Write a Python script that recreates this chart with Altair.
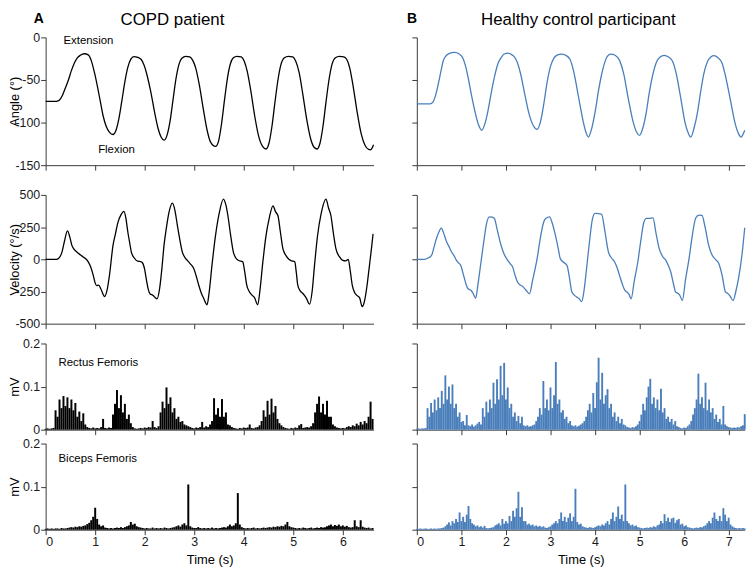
import altair as alt
import pandas as pd

FONT = "Liberation Sans"
BLACK = "#000000"
BLUE = "#4a7ebb"
AXIS = "#3a3a3a"

# ---------------- COPD patient (panel A) ----------------
copd_angle_t = [0, 0.22, 0.28, 0.34, 0.4, 0.46, 0.52, 0.58, 0.64, 0.7, 0.78, 0.86, 0.92, 0.98, 1.04, 1.1, 1.16, 1.22, 1.29, 1.36,
                1.42, 1.48, 1.54, 1.6, 1.66, 1.72, 1.78, 1.86, 1.93, 1.99, 2.05, 2.12, 2.2, 2.27, 2.33, 2.39,
                2.45, 2.51, 2.57, 2.63, 2.69, 2.75, 2.83, 2.91, 2.97, 3.03, 3.1, 3.18, 3.26, 3.33, 3.43,
                3.49, 3.55, 3.61, 3.67, 3.73, 3.79, 3.86, 3.95, 4.01, 4.07, 4.14, 4.22, 4.3, 4.38, 4.45,
                4.51, 4.57, 4.63, 4.69, 4.75, 4.82, 4.9, 4.99, 5.05, 5.12, 5.19, 5.27, 5.35, 5.42, 5.48,
                5.54, 5.6, 5.66, 5.72, 5.78, 5.85, 5.93, 6.02, 6.08, 6.14, 6.21, 6.29, 6.37, 6.45, 6.52, 6.56, 6.59, 6.62]
copd_angle = [-75, -75, -73.5, -68, -59, -50, -39, -30, -24, -21, -19.2, -20.5, -27, -40, -56, -74, -92, -104, -111.5, -114,
              -109, -95, -74, -52, -35, -25.5, -22.5, -23.5, -26, -33, -45, -63, -88, -107, -117, -120.7,
              -115, -99, -74, -49, -32, -24.5, -22.2, -23, -27, -36, -55, -83, -109, -123, -128,
              -122, -102, -74, -48, -31, -24, -22.2, -23, -28, -40, -62, -92, -116, -128, -131,
              -124, -104, -76, -50, -32, -24, -22.2, -23, -28, -42, -66, -96, -119, -129, -131,
              -124, -104, -76, -50, -32, -24, -22.2, -23, -26, -36, -58, -88, -113, -127, -131.5, -132, -130, -126]

copd_vel_t = [0, 0.22, 0.28, 0.33, 0.38, 0.44, 0.49, 0.53, 0.58, 0.63, 0.7, 0.76, 0.82, 0.86, 0.91, 0.96, 1.0, 1.03, 1.07, 1.12,
              1.19, 1.24, 1.29, 1.36, 1.41, 1.46, 1.52, 1.58, 1.62, 1.66, 1.7, 1.73, 1.79, 1.86, 1.92, 1.95, 2.0, 2.03,
              2.07, 2.11, 2.16, 2.25, 2.3, 2.35, 2.39, 2.44, 2.49, 2.56, 2.61, 2.66, 2.71, 2.76, 2.81, 2.86, 2.92, 2.99,
              3.04, 3.09, 3.14, 3.19, 3.26, 3.3, 3.36, 3.43, 3.5, 3.59, 3.64, 3.68, 3.73, 3.79, 3.84, 3.89, 3.98, 4.02,
              4.06, 4.11, 4.16, 4.22, 4.28, 4.33, 4.38, 4.45, 4.52, 4.59, 4.64, 4.69, 4.74, 4.79, 4.85, 4.91, 4.97,
              5.03, 5.06, 5.09, 5.14, 5.19, 5.26, 5.33, 5.38, 5.43, 5.49, 5.56, 5.66, 5.71, 5.76, 5.81, 5.86, 5.93,
              6.0, 6.06, 6.11, 6.15, 6.19, 6.24, 6.29, 6.34, 6.39, 6.44, 6.49, 6.53, 6.58, 6.61]
copd_vel = [0, 0, 15, 56, 140, 220, 170, 108, 75, 56, 35, 18, 0, -20, -60, -123, -185, -205, -200, -235,
            -289, -240, -120, 108, 200, 287, 345, 372, 320, 210, 120, 56, 10, -15, -18, -25, -80, -149,
            -230, -270, -278, -307, -230, -60, 108, 250, 364, 436, 380, 262, 150, 56, 15, -8, -35, -72,
            -130, -200, -260, -303, -353, -260, -40, 185, 350, 467, 420, 338, 200, 56, 10, -8, -20, -100,
            -200, -250, -277, -300, -353, -230, -40, 185, 330, 415, 370, 338, 210, 82, 30, 0, -12,
            -20, -100, -200, -245, -264, -300, -348, -250, -40, 185, 350, 467, 400, 338, 200, 82, 20,
            -8, -12, 0, -90, -200, -260, -282, -300, -368, -320, -200, -72, 90, 197]

# EMG (mV), one value every 0.04 s from t = 0
copd_rf = [0.002, 0.003, 0.002, 0.003, 0.004,
           0.045, 0.03, 0.07, 0.05, 0.078, 0.055, 0.075, 0.05, 0.07, 0.045, 0.062, 0.03, 0.042, 0.02, 0.038,
           0.012, 0.006, 0.004, 0.003, 0.005, 0.003, 0.004, 0.003, 0.006, 0.025, 0.004, 0.003, 0.005, 0.004,
           0.035, 0.06, 0.092, 0.05, 0.08, 0.04, 0.06, 0.025, 0.035, 0.015, 0.006, 0.003, 0.002, 0.003, 0.004, 0.003,
           0.005, 0.004, 0.006, 0.005, 0.02, 0.006, 0.004, 0.008,
           0.04, 0.065, 0.05, 0.098, 0.06, 0.075, 0.04, 0.05, 0.025, 0.03, 0.018, 0.02, 0.012, 0.01, 0.008, 0.006,
           0.004, 0.003, 0.005, 0.004, 0.006, 0.018, 0.005, 0.008, 0.006, 0.012,
           0.02, 0.073, 0.035, 0.05, 0.03, 0.071, 0.03, 0.04, 0.012, 0.01, 0.006, 0.004, 0.003, 0.002, 0.004, 0.003,
           0.005, 0.004, 0.005, 0.012, 0.004, 0.003, 0.005, 0.006, 0.01, 0.02,
           0.045, 0.03, 0.067, 0.035, 0.072, 0.04, 0.055, 0.025, 0.015, 0.01, 0.006, 0.004, 0.003, 0.002, 0.004, 0.003,
           0.005, 0.004, 0.01, 0.013, 0.004, 0.005, 0.006, 0.005, 0.008, 0.015,
           0.04, 0.06, 0.077, 0.04, 0.06, 0.035, 0.067, 0.03, 0.03, 0.012, 0.008, 0.005, 0.004, 0.003, 0.004, 0.003,
           0.006, 0.008, 0.006, 0.01, 0.008, 0.014, 0.01, 0.018, 0.012, 0.02, 0.015, 0.03, 0.065, 0.025]
copd_bf = [0.002, 0.003, 0.002, 0.003, 0.002, 0.003, 0.003, 0.002, 0.004, 0.003, 0.003,
           0.004, 0.005, 0.006, 0.005, 0.007, 0.006, 0.008, 0.007, 0.009, 0.01, 0.013, 0.016, 0.022, 0.03, 0.051,
           0.025, 0.012, 0.008, 0.01, 0.005, 0.004,
           0.003, 0.004, 0.003, 0.004, 0.005, 0.004, 0.006, 0.004, 0.006, 0.008, 0.01, 0.018, 0.012, 0.014, 0.008,
           0.006, 0.005, 0.004, 0.003,
           0.004, 0.003, 0.003, 0.005, 0.003, 0.004, 0.003, 0.004, 0.003, 0.005, 0.004, 0.003, 0.004, 0.005,
           0.006, 0.008, 0.01, 0.007, 0.012, 0.015, 0.01, 0.105, 0.008, 0.005, 0.004, 0.004, 0.006, 0.004, 0.003, 0.004,
           0.003, 0.004, 0.003, 0.005, 0.003, 0.004, 0.003, 0.004, 0.005, 0.006, 0.005, 0.008, 0.012, 0.008, 0.01,
           0.015, 0.085, 0.012, 0.006, 0.004,
           0.003, 0.004, 0.003, 0.004, 0.005, 0.003, 0.004, 0.003, 0.004, 0.005, 0.004, 0.005, 0.006, 0.005, 0.007,
           0.006, 0.008, 0.007, 0.009, 0.008, 0.012, 0.018, 0.008, 0.006, 0.005,
           0.004, 0.003, 0.004, 0.003, 0.005, 0.004, 0.003, 0.004, 0.005, 0.003, 0.004, 0.005, 0.004, 0.006, 0.005,
           0.006, 0.008, 0.01, 0.012, 0.008, 0.011, 0.009, 0.012, 0.008, 0.01, 0.007, 0.009, 0.006, 0.005, 0.006,
           0.022, 0.008, 0.006, 0.022, 0.007, 0.005, 0.004, 0.005, 0.003, 0.004]

# ---------------- Healthy control (panel B) ----------------
hc_angle_t = [0, 0.3, 0.36, 0.42, 0.48, 0.54, 0.59, 0.65, 0.72, 0.85, 0.95, 1.04, 1.1, 1.15, 1.22, 1.3, 1.38, 1.46,
              1.53, 1.59, 1.66, 1.74, 1.82, 1.89, 1.96, 2.04, 2.12, 2.19, 2.26, 2.33, 2.42, 2.52, 2.62, 2.7,
              2.78, 2.85, 2.92, 3.0, 3.08, 3.16, 3.24, 3.34, 3.44, 3.52, 3.63, 3.74, 3.8, 3.85,
              3.92, 4.0, 4.08, 4.15, 4.22, 4.28, 4.35, 4.45, 4.55, 4.64, 4.74, 4.86, 4.94, 5.0,
              5.07, 5.15, 5.22, 5.3, 5.38, 5.46, 5.55, 5.65, 5.74, 5.82, 5.92, 6.02, 6.09, 6.15,
              6.22, 6.3, 6.37, 6.44, 6.52, 6.6, 6.67, 6.76, 6.85, 6.94, 7.04, 7.14, 7.22, 7.28, 7.32, 7.36]
hc_angle = [-78, -78, -76, -68, -55, -40, -28, -22, -19, -17.7, -19.5, -25, -35, -47, -66, -86, -102, -109,
            -101, -88, -68, -47, -31, -24, -19.5, -18.5, -20, -23, -30, -43, -66, -90, -104, -108,
            -98, -78, -54, -34, -24, -20.5, -19.6, -21, -26, -40, -70, -100, -112, -117,
            -108, -88, -62, -43, -29, -22, -19.6, -21, -27, -42, -70, -100, -112, -115,
            -107, -88, -64, -43, -29, -23, -21, -23, -28, -42, -70, -100, -112, -117,
            -107, -88, -64, -43, -29, -23, -21.5, -24, -30, -48, -74, -100, -113, -117, -114, -109]

hc_vel_t = [0, 0.18, 0.25, 0.33, 0.39, 0.44, 0.5, 0.55, 0.6, 0.67, 0.72, 0.78, 0.84, 0.89, 0.94, 0.985, 1.03, 1.07,
            1.11, 1.15, 1.22, 1.27, 1.32, 1.37, 1.44, 1.5, 1.56, 1.63, 1.69, 1.74, 1.81, 1.89, 1.96, 2.04, 2.1,
            2.15, 2.21, 2.26, 2.32, 2.37, 2.45, 2.53, 2.6, 2.7, 2.77, 2.85, 2.9, 2.98, 3.04, 3.11, 3.17, 3.22,
            3.3, 3.37, 3.42, 3.48, 3.54, 3.59, 3.64, 3.7, 3.75, 3.81, 3.88, 3.94, 4.0, 4.08, 4.15, 4.22, 4.3,
            4.37, 4.44, 4.49, 4.55, 4.61, 4.67, 4.72, 4.76, 4.81, 4.88, 4.96, 5.03, 5.09, 5.15, 5.22, 5.3, 5.37,
            5.44, 5.52, 5.59, 5.64, 5.7, 5.76, 5.81, 5.86, 5.9, 5.96, 6.03, 6.11, 6.19, 6.26, 6.33, 6.4, 6.47,
            6.55, 6.63, 6.7, 6.78, 6.85, 6.93, 6.98, 7.03, 7.1, 7.16, 7.22, 7.3, 7.36]
hc_vel = [0, 0, 10, 31, 100, 161, 215, 244, 205, 135, 100, 57, 25, -8, -30, -47, -100, -151,
          -200, -229, -242, -270, -303, -200, -21, 130, 270, 330, 328, 317, 220, 109, 40, -8, -35,
          -60, -130, -177, -200, -210, -240, -268, -160, 5, 160, 291, 318, 330, 280, 187, 90, 5,
          -25, -47, -130, -255, -280, -294, -305, -329, -250, -73, 150, 310, 356, 355, 348, 220, 57,
          10, -21, -60, -125, -190, -242, -255, -270, -307, -170, -21, 150, 280, 317, 318, 322, 200,
          83, 20, -8, -45, -99, -190, -255, -265, -278, -320, -160, 5, 200, 320, 343, 340, 250,
          110, 31, 0, -34, -120, -255, -265, -285, -320, -250, -151, 40, 245]

hc_rf = [0.002, 0.003, 0.002, 0.003, 0.003, 0.004,
         0.05, 0.03, 0.062, 0.04, 0.07, 0.045, 0.075, 0.05, 0.09, 0.06, 0.126, 0.07, 0.1, 0.06, 0.105, 0.05, 0.06,
         0.03, 0.04, 0.018, 0.02, 0.01, 0.034, 0.01, 0.008, 0.012, 0.007, 0.01, 0.014, 0.018,
         0.012, 0.05, 0.03, 0.065, 0.04, 0.07, 0.05, 0.109, 0.06, 0.117, 0.07, 0.148, 0.08, 0.155, 0.07, 0.098,
         0.05, 0.06, 0.03, 0.04, 0.02, 0.032, 0.015, 0.03, 0.01, 0.008, 0.01, 0.007, 0.008, 0.01, 0.012, 0.02,
         0.03, 0.05, 0.035, 0.113, 0.05, 0.07, 0.045, 0.098, 0.05, 0.08, 0.157, 0.06, 0.07, 0.04, 0.045, 0.025,
         0.03, 0.015, 0.02, 0.01, 0.008, 0.01, 0.007, 0.009, 0.012, 0.015, 0.02,
         0.03, 0.045, 0.06, 0.04, 0.085, 0.05, 0.11, 0.167, 0.07, 0.132, 0.06, 0.08, 0.094, 0.05, 0.06, 0.03,
         0.04, 0.02, 0.03, 0.015, 0.025, 0.012, 0.01, 0.006, 0.005, 0.004, 0.006, 0.005, 0.008, 0.012, 0.02,
         0.035, 0.06, 0.045, 0.075, 0.1, 0.118, 0.06, 0.075, 0.05, 0.07, 0.045, 0.095, 0.04, 0.05, 0.025, 0.03,
         0.018, 0.025, 0.012, 0.02, 0.008, 0.006, 0.004, 0.003, 0.005, 0.004, 0.008, 0.012, 0.02,
         0.035, 0.05, 0.07, 0.13, 0.06, 0.075, 0.05, 0.109, 0.045, 0.07, 0.04, 0.05, 0.025, 0.035, 0.018, 0.025,
         0.012, 0.055, 0.012, 0.008, 0.006, 0.005, 0.004, 0.005, 0.004, 0.006, 0.005, 0.008, 0.01, 0.036]
hc_bf = [0.002, 0.002, 0.003, 0.002, 0.002, 0.003, 0.002, 0.002, 0.003, 0.002, 0.003, 0.002, 0.003, 0.003, 0.004,
         0.005, 0.008, 0.012, 0.017, 0.01, 0.02, 0.015, 0.025, 0.018, 0.04, 0.02, 0.03, 0.018, 0.035, 0.055, 0.025,
         0.015, 0.012, 0.008, 0.01, 0.006, 0.008, 0.005, 0.009, 0.004, 0.003, 0.004, 0.005,
         0.006, 0.01, 0.012, 0.015, 0.01, 0.025, 0.014, 0.02, 0.015, 0.032, 0.02, 0.044, 0.03, 0.05, 0.088, 0.03,
         0.052, 0.02, 0.02, 0.012, 0.014, 0.01, 0.012, 0.008, 0.01, 0.007, 0.009, 0.006, 0.008, 0.005, 0.004, 0.006,
         0.008, 0.012, 0.015, 0.02, 0.015, 0.025, 0.04, 0.02, 0.03, 0.018, 0.028, 0.038, 0.02, 0.03, 0.095, 0.018,
         0.012, 0.014, 0.008, 0.006, 0.005, 0.004, 0.006, 0.005, 0.004, 0.006, 0.008,
         0.01, 0.008, 0.012, 0.01, 0.015, 0.02, 0.012, 0.025, 0.04, 0.02, 0.03, 0.054, 0.025, 0.035, 0.02, 0.105,
         0.02, 0.015, 0.01, 0.012, 0.008, 0.01, 0.006, 0.005, 0.004, 0.003, 0.004, 0.005, 0.004, 0.006, 0.005, 0.008,
         0.006, 0.01, 0.012, 0.02, 0.015, 0.036, 0.02, 0.028, 0.018, 0.026, 0.028, 0.016, 0.022, 0.025, 0.012,
         0.014, 0.008, 0.01, 0.006, 0.005, 0.004, 0.003, 0.004, 0.005, 0.004, 0.006, 0.005, 0.008,
         0.01, 0.015, 0.02, 0.015, 0.028, 0.04, 0.025, 0.02, 0.032, 0.02, 0.05, 0.035, 0.02, 0.028, 0.012, 0.008,
         0.005, 0.004, 0.003, 0.004, 0.003, 0.004, 0.003]
emg_dt = 0.04

x_ticks_a = [0, 1, 2, 3, 4, 5, 6]
x_ticks_b = [0, 1, 2, 3, 4, 5, 6, 7]
angle_ticks = [0, -50, -100, -150]
vel_ticks = [500, 250, 0, -250, -500]
emg_ticks = [0, 0.1, 0.2]

W = 331
H_ANGLE = 129
H_VEL = 130
H_EMG = 87
LABEL_EXPR = "datum.value < 0 ? '-' + abs(datum.value) : '' + datum.value"


def sdf(t, v):
    return pd.DataFrame({"t": t, "v": v})


def edf(vals):
    return pd.DataFrame({"t": [round(i * emg_dt, 2) for i in range(len(vals))], "v": vals})


def panel(df, kind, color, xmax, xticks, ydom, yticks, ytitle, left, bottom, height, rule_w):
    xa = dict(values=xticks, labels=bottom, title="Time (s)" if bottom else None, format="d", titlePadding=6)
    ya = dict(values=yticks, labels=left, title=ytitle if left else None, labelExpr=LABEL_EXPR, titleX=-24)
    x = alt.X("t:Q", scale=alt.Scale(domain=[0, xmax], nice=False, zero=False), axis=alt.Axis(**xa))
    y = alt.Y("v:Q", scale=alt.Scale(domain=ydom, nice=False, zero=False), axis=alt.Axis(**ya))
    base = alt.Chart(df)
    if kind == "line":
        m = base.mark_line(color=color, strokeWidth=1.3, interpolate="monotone").encode(x=x, y=y)
    else:
        m = base.mark_rule(color=color, strokeWidth=rule_w).encode(x=x, y=y, y2=alt.datum(0))
    return m.properties(width=W, height=height)


def label(t, v, s):
    return alt.Chart(pd.DataFrame({"t": [t], "v": [v], "s": [s]})).mark_text(
        align="left", baseline="middle", fontSize=11.5, font=FONT, color="#000"
    ).encode(x="t:Q", y="v:Q", text="s:N")


def heading(s, px, size, weight, align):
    return alt.Chart(pd.DataFrame({"s": [s]})).mark_text(
        align=align, baseline="top", fontSize=size, fontWeight=weight, font=FONT, color="#000"
    ).encode(x=alt.value(px), y=alt.value(-26), text="s:N")


def spacer(h):
    return alt.Chart(pd.DataFrame({"a": [0]})).mark_point(opacity=0, size=1).encode(
        x=alt.value(0), y=alt.value(0)
    ).properties(width=W, height=h)


def column(angle_df, vel_df, rf_df, bf_df, color, xmax, xticks, left, title, title_px, letter_s, letter_px, rule_w):
    p1 = alt.layer(
        panel(angle_df, "line", color, xmax, xticks, [-150, 0], angle_ticks, "Angle (°)", left, False, H_ANGLE, rule_w),
        *([label(0.36, -4, "Extension"), label(1.06, -132.5, "Flexion")] if left else []),
        heading(letter_s, letter_px, 14, "bold", "left"),
        heading(title, title_px, 17, "normal", "center"),
    )
    p2 = panel(vel_df, "line", color, xmax, xticks, [-500, 500], vel_ticks, "Velocity (°/s)", left, False, H_VEL, rule_w)
    p3 = panel(rf_df, "area", color, xmax, xticks, [0, 0.2], emg_ticks, "mV", left, False, H_EMG, rule_w)
    p4 = panel(bf_df, "area", color, xmax, xticks, [0, 0.2], emg_ticks, "mV", left, True, H_EMG, rule_w)
    if left:
        p3 = alt.layer(p3, label(0.26, 0.155, "Rectus Femoris"))
        p4 = alt.layer(p4, label(0.26, 0.165, "Biceps Femoris"))
    return [p1, p2, p3, p4]


a = column(sdf(copd_angle_t, copd_angle), sdf(copd_vel_t, copd_vel), edf(copd_rf), edf(copd_bf),
           BLACK, 6.62, x_ticks_a, True, "COPD patient", 128, "A", -12, 2.0)
b = column(sdf(hc_angle_t, hc_angle), sdf(hc_vel_t, hc_vel), edf(hc_rf), edf(hc_bf),
           BLUE, 7.36, x_ticks_b, False, "Healthy control participant", 163, "B", -10, 1.9)

cells = [a[0], b[0], spacer(29.4), spacer(29.4),
         a[1], b[1], spacer(19.4), spacer(19.4),
         a[2], b[2], spacer(13.3), spacer(13.3),
         a[3], b[3]]

chart = alt.concat(*cells, columns=2, spacing={"row": 0, "column": 43.7},
                   bounds="flush", align="each").properties(
    padding={"left": 0, "top": 0, "right": 0, "bottom": 0}
).configure_view(stroke=None).configure_axis(
    grid=False, domainColor=AXIS, tickColor=AXIS, tickSize=5, domainWidth=1, tickWidth=1,
    labelFont=FONT, labelFontSize=12.5, labelColor="#1a1a1a", labelPadding=1,
    titleFont=FONT, titleFontSize=13, titleFontWeight="normal", titleColor="#000", titlePadding=1,
)

chart.save("out.html", embed_options={"renderer": "svg", "actions": False})
